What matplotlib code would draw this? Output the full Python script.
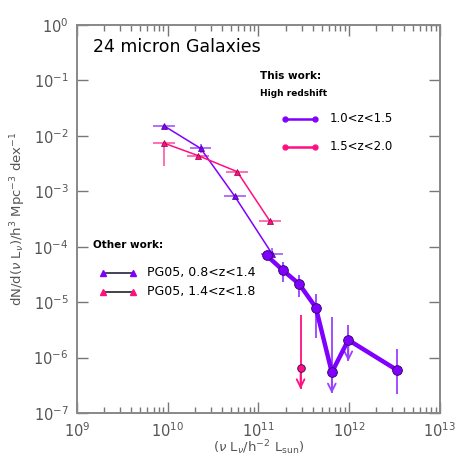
import numpy as np
import matplotlib
matplotlib.use('Agg')
import matplotlib.pyplot as plt
from matplotlib.ticker import NullFormatter, LogFormatterMathtext

# this work, 1.0<z<1.5
hz1_L = [1.23e11, 1.87e11, 2.82e11, 4.3e11, 6.45e11, 9.8e11, 3.4e12]
hz1_phi = [7.0e-5, 3.74e-5, 2.12e-5, 8.0e-6, 5.4e-7, 2.08e-6, 5.9e-7]
hz1_hi = [7.6e-5, 5.28e-5, 3.04e-5, 1.43e-5, 5.4e-6, 3.94e-6, 1.42e-6]
hz1_lo = [6.4e-5, 2.31e-5, 1.24e-5, 2.21e-6, 2.26e-7, 8.6e-7, 2.2e-7]
hz1_ul = [False, False, False, False, True, True, False]

# this work, 1.5<z<2.0
hz2_L = [2.92e11]
hz2_phi = [6.5e-7]
hz2_hi = [5.8e-6]
hz2_lo = [2.7e-7]
hz2_ul = [True]

# PG05
pg1_L = [9.1e9, 2.31e10, 5.5e10, 1.42e11]
pg1_phi = [1.52e-2, 5.94e-3, 8.1e-4, 7.4e-5]
pg1_dy = [0.0, 0.08, 0.0, 0.11]   # dex
pg2_L = [9.1e9, 2.17e10, 5.84e10, 1.34e11]
pg2_phi = [7.4e-3, 4.4e-3, 2.26e-3, 2.9e-4]
pg2_dylo = [0.42, 0.0, 0.0, 0.0]  # dex
pg_dx = 0.12  # dex

xticks = [1e9, 1e10, 1e11, 1e12, 1e13]
yticks = [1e-7, 1e-6, 1e-5, 1e-4, 1e-3, 1e-2, 1e-1, 1e0]

purple = '#7f00ff'
pink = '#ff0f80'
purple_lt = '#b070ff'
pink_lt = '#ff70b0'

plt.rcParams['font.family'] = 'DejaVu Sans'
fig = plt.figure(figsize=(4.63, 4.63), dpi=100)
ax = fig.add_axes([0.166, 0.108, 0.784, 0.838])
ax.set_xscale('log')
ax.set_yscale('log')
ax.set_xlim(1e9, 1e13)
ax.set_ylim(1e-7, 1)

def xerr_of(L, d):
    L = np.array(L)
    return [L - L / 10**d, L * 10**d - L]

# PG05 points
pg1_phi_a = np.array(pg1_phi)
ax.errorbar(pg1_L, pg1_phi, xerr=xerr_of(pg1_L, pg_dx),
            yerr=[pg1_phi_a - pg1_phi_a / 10**np.array(pg1_dy), pg1_phi_a * 10**np.array(pg1_dy) - pg1_phi_a],
            fmt='none', ecolor=purple_lt, elinewidth=1.4, zorder=2)
ax.plot(pg1_L, pg1_phi, '-^', color=purple, lw=1.1, ms=5, mec='#40008a', mew=0.5, zorder=3)
pg2_phi_a = np.array(pg2_phi)
ax.errorbar(pg2_L, pg2_phi, xerr=xerr_of(pg2_L, pg_dx),
            yerr=[pg2_phi_a - pg2_phi_a / 10**np.array(pg2_dylo), np.zeros(len(pg2_phi))],
            fmt='none', ecolor=pink_lt, elinewidth=1.4, zorder=2)
ax.plot(pg2_L, pg2_phi, '-^', color=pink, lw=1.1, ms=5, mec='#8a0040', mew=0.5, zorder=3)

# this work
def draw_lf(L, phi, hi, lo, ul, col, ecol, lw, ms):
    ax.vlines(L, lo, hi, colors=ecol, lw=1.3, zorder=4)
    for x, l, u in zip(L, lo, ul):
        if u:
            ax.annotate('', xy=(x, l), xytext=(x, l * 2.2),
                        arrowprops=dict(arrowstyle='->', color=ecol, lw=1.3,
                                        mutation_scale=14, shrinkA=0, shrinkB=0),
                        zorder=4)
    if lw > 0:
        ax.plot(L, phi, '-', color=col, lw=lw, zorder=5)
    ax.plot(L, phi, 'o', color=col, ms=ms, mec='#300060', mew=0.6, zorder=6)

draw_lf(hz1_L, hz1_phi, hz1_hi, hz1_lo, hz1_ul, purple, '#9a40ff', 3.2, 7)
draw_lf(hz2_L, hz2_phi, hz2_hi, hz2_lo, hz2_ul, pink, pink, 0, 5.5)

# ticks
minor_x = [m * d for d in xticks[:-1] for m in range(2, 10)]
ax.set_xticks(xticks)
ax.set_xticks(minor_x, minor=True)
ax.xaxis.set_major_formatter(LogFormatterMathtext())
ax.xaxis.set_minor_formatter(NullFormatter())
ax.set_yticks(yticks)
ax.set_yticks([], minor=True)
ax.yaxis.set_major_formatter(LogFormatterMathtext())
ax.tick_params(which='both', direction='in', top=True, right=True, color='#777777', width=1.0)
ax.tick_params(which='major', length=8, labelsize=10.5, labelcolor='#555555', pad=6)
ax.tick_params(which='minor', length=4)
for s in ax.spines.values():
    s.set_color('#888888')
    s.set_linewidth(1.4)

ax.set_xlabel(r'($\nu$ L$_\nu$/h$^{-2}$ L$_{\rm sun}$)', fontsize=9.5, color='#555555', labelpad=-1)
ax.set_ylabel(r'dN/d($\nu$ L$_\nu$)/h$^3$ Mpc$^{-3}$ dex$^{-1}$', fontsize=9.5, color='#555555', labelpad=4)

# annotations
tr = ax.transAxes
ax.text(0.044, 0.944, '24 micron Galaxies', transform=tr, fontsize=12.5, va='center')
ax.text(0.505, 0.868, 'This work:', transform=tr, fontsize=7.5, fontweight='bold', va='center')
ax.text(0.505, 0.824, 'High redshift', transform=tr, fontsize=6.5, fontweight='bold', va='center')
ax.plot([0.573, 0.656], [0.757, 0.757], '-o', color=purple, lw=1.8, ms=3.5, transform=tr, clip_on=False)
ax.text(0.697, 0.760, '1.0<z<1.5', transform=tr, fontsize=8.5, va='center')
ax.plot([0.573, 0.656], [0.685, 0.685], '-o', color=pink, lw=1.8, ms=3.5, transform=tr, clip_on=False)
ax.text(0.697, 0.688, '1.5<z<2.0', transform=tr, fontsize=8.5, va='center')

ax.text(0.044, 0.432, 'Other work:', transform=tr, fontsize=7.5, fontweight='bold', va='center')
ax.plot([0.072, 0.155], [0.360, 0.360], '-^', color='#222244', mfc=purple, mec=purple, lw=1.2, ms=4.5, transform=tr)
ax.text(0.193, 0.362, 'PG05, 0.8<z<1.4', transform=tr, fontsize=9, va='center')
ax.plot([0.072, 0.155], [0.311, 0.311], '-^', color='#222222', mfc=pink, mec=pink, lw=1.2, ms=4.5, transform=tr)
ax.text(0.193, 0.313, 'PG05, 1.4<z<1.8', transform=tr, fontsize=9, va='center')

fig.savefig('out.png', dpi=100)
